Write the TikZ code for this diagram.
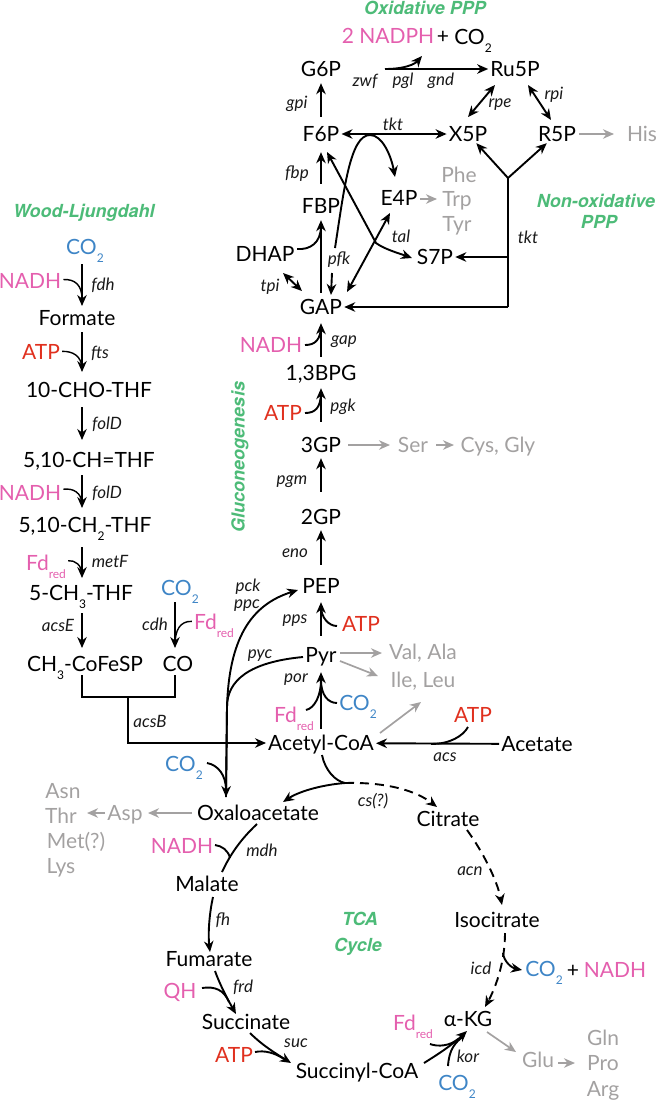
\documentclass[tikz,border=0pt]{standalone}
\usepackage{fontspec}
\usepackage{xcolor}
\setmainfont{Lato}
\newfontfamily\titlefont{TeX Gyre Heros}
\usetikzlibrary{arrows.meta}
\definecolor{nadcol}{HTML}{E45FAE}
\definecolor{atpcol}{HTML}{E0301E}
\definecolor{coocol}{HTML}{3E85C6}
\definecolor{titlecol}{HTML}{4DBB78}
\definecolor{aacol}{HTML}{A3A1A1}
\newcommand{\lowtxt}[1]{\raisebox{-0.36em}{\fontsize{12}{12}\selectfont #1}}
\newcommand{\COtwo}{CO\lowtxt{2}}
\newcommand{\Fdred}{Fd\lowtxt{red}}

\begin{document}
\begin{tikzpicture}[x=1pt,y=-1pt,>={Stealth[length=11pt,width=9.5pt,inset=3.5pt]},
    met/.style={font=\fontsize{21}{23}\selectfont,text height=15pt,text depth=0pt,inner xsep=2pt,inner ysep=1.5pt,text=black},
    nad/.style={met,text=nadcol},
    atp/.style={met,text=atpcol},
    coo/.style={met,text=coocol},
    aa/.style={met,text=aacol},
    enz/.style={font=\fontsize{17}{19}\selectfont\itshape,inner sep=0pt,text=black!90},
    paththeme/.style={font=\fontsize{18}{20}\selectfont\titlefont\bfseries\itshape,inner sep=0pt,text=titlecol},
    link/.style={line width=1.9pt},
    thinlink/.style={line width=1.4pt},
    aalink/.style={line width=1.7pt,color=aacol},
    dashlink/.style={link,dash pattern=on 9pt off 6pt}]
    \useasboundingbox (0,0) rectangle (657,1101);

    % Titoli delle vie
    \node[paththeme] (oxtitle) at (425,8) {Oxidative PPP};
    \node[paththeme] (wltitle) at (84,213) {Wood-Ljungdahl};
    \node[paththeme] (nonoxtitle) at (596,201) {Non-oxidative};
    \node[paththeme] (nonoxppp) at (599,222) {PPP};
    \node[paththeme] (tcatitle) at (360,919) {TCA};
    \node[paththeme] (cycletitle) at (358,947) {Cycle};
    \node[paththeme,rotate=90] (gngtitle) at (240,457) {Gluconeogenesis};

    % Metaboliti
    \foreach \name/\x/\y/\lab in {g6p/321/69/G6P,ru5p/515/69/Ru5P,f6p/321/134/F6P,x5p/468/134/X5P,r5p/557/134/R5P,
        fbp/321/206/FBP,e4p/399/198/E4P,dhap/265/254/DHAP,s7p/435/257/S7P,gap/321/307/GAP,bpg/321/373/{1,3BPG},
        tgp/321/445/3GP,dgp/321/517/2GP,pep/321/586/PEP,pyr/321/655/Pyr,acetyl/321/743/Acetyl-CoA,acetate/537/744/Acetate,
        oaa/258/813/Oxaloacetate,malate/207/884/Malate,fumarate/209/959/Fumarate,succinate/246/1022/Succinate,
        succoa/357/1071/Succinyl-CoA,akg/468/1019/α-KG,citrate/448/819/Citrate,isocitrate/497/920/Isocitrate,
        formate/77/318/Formate,chothf/89/390/10-CHO-THF,chthf/89/460/{5,10-CH=THF},chtwothf/85/525/{5,10-CH\lowtxt{2}-THF},
        chthreethf/81/593/{5-CH\lowtxt{3}-THF},cofesp/85/664/{CH\lowtxt{3}-CoFeSP},co/178/664/CO,
        coppp/473/37/\COtwo,pluspp/443/36/+,plustca/573/970/+}
        \node[met] (\name) at (\x,\y) {\lab};

    % Cofattori
    \foreach \name/\x/\y/\lab in {nadphtop/388/36/2 NADPH,nadhgap/271/345/NADH,nadhmdh/182/846/NADH,nadha/30/281/NADH,nadhb/30/493/NADH,
        nadhtca/615/970/NADH,qh/180/991/QH,fda/46/563/\Fdred,fdb/214/622/\Fdred,fdc/294/715/\Fdred,fdd/413/1023/\Fdred}
        \node[nad] (\name) at (\x,\y) {\lab};
    \foreach \name/\x/\y in {atpa/41/352,atpb/283/413,atpc/361/624,atpd/473/715,atpe/234/1055}
        \node[atp] (\name) at (\x,\y) {ATP};
    \foreach \name/\x/\y in {cooa/85/247,coob/180/588,cooc/358/703,cood/184/764,cooe/544/969,coof/457/1083}
        \node[coo] (\name) at (\x,\y) {\COtwo};

    % Amminoacidi
    \foreach \name/\x/\y/\lab in {his/642/134/His,phe/459/175/Phe,trp/457/199/Trp,tyr/457/224/Tyr,ser/413/445/Ser,cysgly/498/445/{Cys, Gly},
        valala/423/652/{Val, Ala},ileleu/423/680/{Ile, Leu},asp/125/813/Asp,asn/63/791/Asn,thr/61/816/Thr,met/76/841/Met(?),lys/61/866/Lys,
        glu/538/1060/Glu,gln/603/1038/Gln,pro/603/1063/Pro,arg/603/1089/Arg}
        \node[aa] (\name) at (\x,\y) {\lab};

    % Enzimi
    \foreach \name/\x/\y in {fdh/103/285,fts/100/353,acsE/58/625,cdh/155/624,acsB/150/721,metF/110/561,
        pck/248/587,ppc/247/606,pyc/260/656,por/296/680,pps/295/621,eno/295/553,pgm/292/482,pgk/343/407,
        tal/401/236,tpi/270/287,pfk/339/260,fbp/297/174,gpi/297/104,zwf/365/81,pgl/403/81,gnd/441/81,rpe/500/105,rpi/554/95,
        acs/445/757,mdh/262/850,fh/223/920,frd/243/987,suc/296/1043,acn/470/871,icd/481/968,kor/468/1056}
        \node[enz] (e\name) at (\x,\y) {\name};
    \node[enz] (egap) at (344,342) {gap};
    \node[enz] (efolDa) at (107,424) {folD};
    \node[enz] (efolDb) at (107,493) {folD};
    \node[enz] (etkta) at (393,124) {tkt};
    \node[enz] (etktb) at (528,237) {tkt};
    \node[enz] (ecs) at (373,801) {cs(?)};

    % Punti liberi e giunzioni
    \foreach \name/\x/\y in {leftline/82/0,cdhline/175/0,
        fdhjoin/82/299,ftsjoin/82/367,nadhbjoin/82/503,fdajoin/82/575,fdbjoin/175/645,
        nadphend/422/56,nadphstart/385/69,
        tktfork/508/178,tkts/508/257,tktg/508/307,
        pfkstart/335/248,pfkpeak/370/135,pfktip/395/177,pfklow/332/273,pfkhigh/331/295,
        dhapstart/297/249,dhapjoin/321/226,tpia/283/273,tpib/302/291,
        talf/327/152,talbend/376/243,tals/412/258,talg/347/292,tale/390/213,
        rpea/495/85,rpeb/468/117,rpia/528/85,rpib/551/120,
        nadhgapstart/305/345,atpbstart/305/413,atpcstart/337/626,fdcstart/306/710,coocstart/337/703,
        gapjoin/321/325,pgkjoin/321/392,atpjoin/321/606,porjoin/321/680,
        ch3foot/82/675,cofoot/175/675,acsjoin/128/697,
        pyca/303/657,oaatop/226/797,pepleft/298/590,pckbend/227/707,oaajoin/226/790,coodstart/207/763,
        atpdstart/468/727,acsjoina/431/744,acsfoot/322/755,csfork/345/783,oaaright/283/802,citleft/437/807,
        citfoot/467/830,isotop/502/905,isofoot/505/933,akgtop/485/1007,icdmid/503/953,icdco/522/970,
        mala/257/824,malb/222/872,mdhstart/215/845,mdhjoin/230/858,mlfoot/213/897,fumtop/210/952,fumfoot/215/971,suctop/236/1014,
        qhstart/202/988,frdjoin/229/1002,
        succfoot/250/1033,sccleft/291/1063,atpestart/255/1052,sucjoin/284/1059,korstart/424/1063,akgfoot/467/1031,
        fddstart/430/1044,korjoin/458/1039,coofstart/448/1066,korjoinb/464/1036,
        akgout/487/1032,gluin/516/1052,acsout/380/733,ileend/421/702,pyrile/340/661,ileout/378/676,pyrval/340/653,valout/382/653,
        hisin/579/134,hisout/614/134,phein/420/199,pheout/437/199,tgpout/348/445,serin/390/445,serout/436/445,cysin/454/445,
        oaaout/192/813,aspin/148/813,aspout/105/813,thrin/87/813,gluout/558/1063,proin/575/1063}
        \coordinate (\name) at (\x,\y);

    % Colonna centrale
    \foreach \from/\to/\ga/\gb in {dgp/tgp/25/13,pep/dgp/21/13,pyr/pep/19/16,acetyl/pyr/14/17,tgp/bpg/23/15,bpg/gap/16/16,
        gap/fbp/14/14,fbp/f6p/22/18,f6p/g6p/17/14}
        \draw[link,->,shorten <=\ga pt-9pt,shorten >=\gb pt-9pt] (\from) -- (\to);
    \draw[link,<->] (f6p) -- (x5p);
    \draw[link,->] (nadphstart) -- (ru5p);
    \draw[link,->] (nadphstart) .. controls (405,69) and (415,64) .. (nadphend);
    \draw[link] (nadhgapstart) .. controls (315,345) and (321,340) .. (gapjoin);
    \draw[link] (atpbstart) .. controls (315,413) and (321,408) .. (pgkjoin);
    \draw[link] (atpcstart) .. controls (329,626) and (321,618) .. (atpjoin);
    \draw[link] (fdcstart) .. controls (315,708) and (321,695) .. (porjoin);
    \draw[link] (coocstart) .. controls (328,703) and (321,695) .. (porjoin);

    % Via dei pentosi
    \draw[link] (dhapstart) .. controls (310,250) and (321,243) .. (dhapjoin);
    \draw[link,<->] (tpia) -- (tpib);
    \draw[link,->] (pfkstart) .. controls (344,190) and (350,135) .. (pfkpeak) .. controls (382,135) and (391,155) .. (pfktip);
    \draw[link,->] (pfklow) -- (pfkhigh);
    \draw[link,<->] (talf) -- (talbend) .. controls (384,249) and (398,253) .. (tals);
    \draw[link,<->] (talg) -- (tale);
    \draw[link,<->] (rpea) -- (rpeb);
    \draw[link,<->] (rpia) -- (rpib);
    \draw[link] (tktg) -- (tktfork);
    \draw[link,->] (tktfork) -- (x5p);
    \draw[link,->] (tktfork) -- (r5p);
    \draw[link,->] (tkts) -- (s7p);
    \draw[link,->] (tktg) -- (gap);

    % Wood-Ljungdahl
    \foreach \from/\to/\ga/\gb in {cooa/formate/17/12,formate/chothf/14/18,chothf/chthf/17/20,chthf/chtwothf/15/17,
        chtwothf/chthreethf/22/15,chthreethf/cofesp/20/16}
        \draw[thinlink,->,shorten <=\ga pt,shorten >=\gb pt] (leftline |- \from) -- (leftline |- \to);
    \draw[thinlink,->,shorten <=14pt,shorten >=16pt] (cdhline |- coob) -- (cdhline |- co);
    \draw[thinlink] (nadha) .. controls (75,279) and (82,285) .. (fdhjoin);
    \draw[thinlink] (atpa) .. controls (74,351) and (81,357) .. (ftsjoin);
    \draw[thinlink] (nadhb) .. controls (74,488) and (81,493) .. (nadhbjoin);
    \draw[thinlink] (fda) .. controls (75,560) and (82,565) .. (fdajoin);
    \draw[thinlink] (fdb) .. controls (180,621) and (175,630) .. (fdbjoin);
    \draw[thinlink] (ch3foot) |- (acsjoin) -| (cofoot);
    \draw[thinlink,->] (acsjoin) |- (acetyl);

    % Ingresso nel ciclo
    \draw[link,->] (oaatop) -- (pckbend) .. controls (229,640) and (250,605) .. (pepleft);
    \draw[link,->] (pyca) .. controls (250,662) and (227,680) .. (pckbend) -- (oaatop);
    \draw[link] (coodstart) .. controls (218,765) and (226,775) .. (oaajoin);
    \draw[link,->] (acetate) -- (acetyl);
    \draw[link] (atpdstart) .. controls (463,736) and (450,744) .. (acsjoina);
    \draw[link] (acsfoot) .. controls (325,770) and (335,781) .. (csfork);
    \draw[link,->] (csfork) .. controls (320,785) and (298,792) .. (oaaright);

    % Ciclo TCA
    \draw[dashlink,->] (csfork) .. controls (385,782) and (415,790) .. (citleft);
    \draw[dashlink,->] (citfoot) .. controls (483,852) and (497,880) .. (isotop);
    \draw[dashlink,->] (isofoot) .. controls (505,960) and (497,985) .. (akgtop);
    \draw[link,->] (icdmid) .. controls (504,962) and (512,968) .. (icdco);
    \draw[link] (mala) .. controls (240,840) and (230,855) .. (malb);
    \draw[link] (mdhstart) .. controls (222,846) and (228,850) .. (mdhjoin);
    \draw[link,->] (mlfoot) .. controls (209,915) and (208,935) .. (fumtop);
    \draw[link,->] (fumfoot) .. controls (220,985) and (228,1000) .. (suctop);
    \draw[link] (qhstart) .. controls (215,986) and (224,990) .. (frdjoin);
    \draw[link,->] (succfoot) .. controls (262,1045) and (275,1053) .. (sccleft);
    \draw[link] (atpestart) .. controls (265,1050) and (275,1053) .. (sucjoin);
    \draw[link,->] (korstart) .. controls (440,1053) and (452,1045) .. (akgfoot);
    \draw[link] (fddstart) .. controls (438,1047) and (450,1046) .. (korjoin);
    \draw[link] (coofstart) .. controls (449,1050) and (455,1042) .. (korjoinb);

    % Uscite verso gli amminoacidi
    \foreach \from/\to in {hisin/hisout,phein/pheout,tgpout/serin,serout/cysin,pyrval/valout,pyrile/ileout,acsout/ileend,
        oaaout/aspin,aspout/thrin,akgout/gluin,gluout/proin}
        \draw[aalink,->] (\from) -- (\to);
\end{tikzpicture}
\end{document}
